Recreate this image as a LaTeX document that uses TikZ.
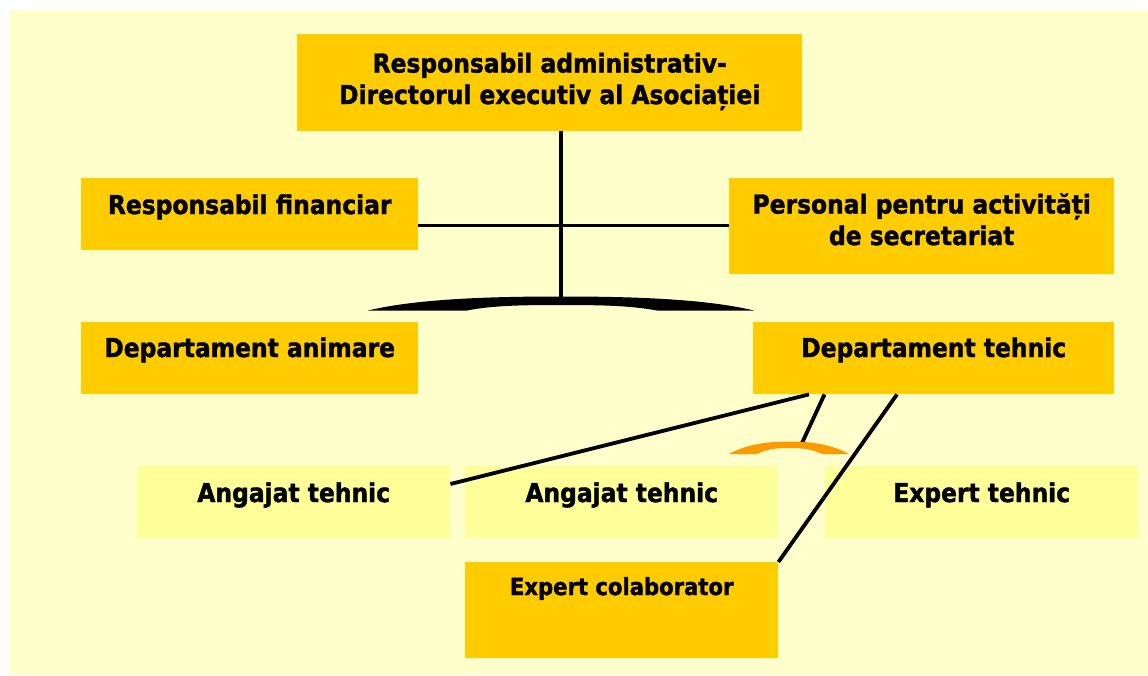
\documentclass[tikz,border=0pt]{standalone}
\usepackage{fontspec}
\setmainfont{DejaVu Sans}[FakeStretch=0.9, BoldFeatures={FakeBold=1.5}]
\usetikzlibrary{calc}
\definecolor{bgyel}{HTML}{FFFFCC}
\definecolor{gold}{HTML}{FFCC00}
\definecolor{lightyel}{HTML}{FFFF99}
\definecolor{orng}{HTML}{FF9900}
\tikzset{
  box/.style={fill=gold, draw=none, inner sep=0pt, anchor=north west},
  lbox/.style={fill=lightyel, draw=none, inner sep=0pt, anchor=north west},
  lbl/.style={font=\bfseries\fontsize{26}{31.5}\selectfont, inner sep=0pt, anchor=base, align=center},
  lblsmall/.style={font=\bfseries\fontsize{23.5}{28}\selectfont, inner sep=0pt, anchor=base, align=center},
  conn/.style={draw=black, line width=3.8pt},
}
\begin{document}
\begin{tikzpicture}[x=1pt,y=-1pt]
\useasboundingbox (0,0) rectangle (1148,675);
\fill[bgyel] (9,10) rectangle (1148,675);

% boxes
\node[box, minimum width=505pt, minimum height=97pt] (tb) at (297,34) {};
\node[box, minimum width=337pt, minimum height=72pt] (rf) at (81,178) {};
\node[box, minimum width=385pt, minimum height=96pt] (ps) at (729,178) {};
\node[box, minimum width=337pt, minimum height=72pt] (da) at (81,322) {};
\node[box, minimum width=361pt, minimum height=72pt] (dt) at (753,322) {};
\node[lbox, minimum width=313pt, minimum height=72pt] (a1) at (137,466) {};
\node[lbox, minimum width=313pt, minimum height=72pt] (a2) at (465,466) {};
\node[lbox, minimum width=313pt, minimum height=72pt] (et) at (825,466) {};
\node[box, minimum width=313pt, minimum height=96pt] (ec) at (465,562) {};

% texts (multi-line nodes: base = last line)
\node[lbl] (tbt) at ($(tb.north)+(0,70)$) {Responsabil administrativ-\\Directorul executiv al Asociației};
\node[lbl] (rft) at ($(rf.north)+(0,36)$) {Responsabil financiar};
\node[lbl] (pst) at ($(ps.north)+(0,67)$) {Personal pentru activități\\de secretariat};
\node[lbl] (dat) at ($(da.north)+(0,35)$) {Departament animare};
\node[lbl] (dtt) at ($(dt.north)+(0,35)$) {Departament tehnic};
\node[lbl] (a1t) at ($(a1.north)+(0,36)$) {Angajat tehnic};
\node[lbl] (a2t) at ($(a2.north)+(0,36)$) {Angajat tehnic};
\node[lbl] (ett) at ($(et.north)+(0,36)$) {Expert tehnic};
\node[lblsmall] (ect) at ($(ec.north)+(0,33)$) {Expert colaborator};

% connectors
\coordinate (brace) at (561,299);
\coordinate (hl) at (561,225.5);
\coordinate (arctop) at (802,443);
\draw[conn] (tb.south -| brace) -- (brace);
\draw[conn] (rf.east |- hl) -- (ps.west |- hl);
\draw[conn] ($(dt.south west)+(56,0)$) -- ($(a1.north east)+(0,18)$);
\draw[conn] ($(dt.south west)+(71.5,0)$) -- (arctop);
\draw[conn] ($(dt.south west)+(144,0)$) -- (ec.north east);

% brace shape
\fill[black] (368,310.5) .. controls (420,298) and (500,296.5) .. (561,296.5)
  .. controls (622,296.5) and (702,298) .. (754,310.5)
  -- (657,310.5) .. controls (630,305.5) and (600,305) .. (561,305)
  .. controls (522,305) and (492,305.5) .. (467,310.5) -- cycle;

% orange arc
\fill[orng] (729,454) .. controls (748,443.5) and (770,441.5) .. (789,441.5)
  .. controls (808,441.5) and (830,443.5) .. (849,454)
  -- (822,454) .. controls (810,448.5) and (800,448) .. (789,448)
  .. controls (778,448) and (768,448.5) .. (757,454) -- cycle;
\end{tikzpicture}
\end{document}
